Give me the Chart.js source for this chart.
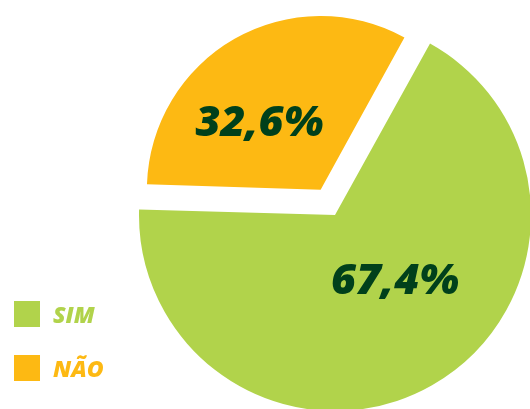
<!DOCTYPE html>
<html>
<head>
<meta charset="utf-8">
<script src="https://cdn.jsdelivr.net/npm/chart.js@4"></script>
<style>
  html, body { margin: 0; padding: 0; background: #fff; overflow: hidden; }
  #wrap { position: relative; width: 530px; height: 409px; }
  #chart { position: absolute; left: 0; top: 0; }
  .legend { position: absolute; left: 14px; top: 301px; font-family: 'Open Sans', 'Noto Sans', sans-serif; }
  .legend-item { display: flex; align-items: center; height: 26px; margin-bottom: 28px; }
  .legend-box { width: 26px; height: 26px; margin-right: 13px; }
  .legend-text { font-size: 23px; font-weight: 800; font-style: italic; line-height: 26px; }
</style>
</head>
<body>
<div id="wrap">
  <canvas id="chart" width="530" height="409"></canvas>
  <div class="legend" id="legend"></div>
</div>
<script>
// ------------------------------------------------------------
// Pie: SIM / NÃO share, NÃO slice pulled out from the pie
// ------------------------------------------------------------

const labels = ['SIM', 'NÃO'];
const values = [67.4, 32.6];
const colors = ['#B1D34B', '#FDB913'];

const labelColor = '#00401B';

// Shrink exploded slices a bit, like the printed original
const sliceRadius = {
    id: 'sliceRadius',
    afterDatasetUpdate(chart, args, opts) {
        args.meta.data.forEach((arc, i) => {
            arc.outerRadius *= opts.scale[i] ?? 1;
        });
    },
};

// Percent text inside each slice
const sliceLabels = {
    id: 'sliceLabels',
    afterDatasetsDraw(chart, args, opts) {
        const { ctx } = chart;
        const meta = chart.getDatasetMeta(0);
        ctx.save();
        ctx.fillStyle = opts.color;
        ctx.font = opts.font;
        ctx.textAlign = 'center';
        ctx.textBaseline = 'middle';
        meta.data.forEach((arc, i) => {
            const { x, y, startAngle, endAngle, outerRadius } = arc.getProps(['x', 'y', 'startAngle', 'endAngle', 'outerRadius'], true);
            const half = (startAngle + endAngle) / 2;
            const shift = (arc.options.offset || 0) / 4;
            const cx = x + Math.cos(half) * shift;
            const cy = y + Math.sin(half) * shift;
            const at = opts.at[i];
            const a = startAngle + at.t * (endAngle - startAngle);
            const r = outerRadius * at.r;
            const text = values[i].toFixed(1).replace('.', ',') + '%';
            ctx.fillText(text, cx + Math.cos(a) * r, cy + Math.sin(a) * r);
        });
        ctx.restore();
    },
};

new Chart(document.getElementById('chart'), {
    type: 'pie',
    data: {
        labels: labels,
        datasets: [{
            data: values,
            backgroundColor: colors,
            borderWidth: 0,
            offset: [0, 116],
            clip: false,
        }],
    },
    options: {
        responsive: false,
        animation: false,
        rotation: 29,
        radius: 196,
        layout: { padding: { left: 140, right: 0, top: 21, bottom: 0 } },
        plugins: {
            legend: { display: false },
            tooltip: { enabled: false },
            sliceRadius: { scale: [1, 0.87] },
            sliceLabels: {
                color: labelColor,
                font: 'italic 900 43px "Open Sans", "Noto Sans", sans-serif',
                at: [{ t: 0.45, r: 0.46 }, { t: 0.39, r: 0.53 }],
            },
        },
    },
    plugins: [sliceRadius, sliceLabels],
});

// HTML legend built from the same arrays
const legendEl = document.getElementById('legend');
labels.forEach((name, i) => {
    const item = document.createElement('div');
    item.className = 'legend-item';
    item.innerHTML = `<span class="legend-box" style="background:${colors[i]}"></span>` +
        `<span class="legend-text" style="color:${colors[i]}">${name}</span>`;
    legendEl.appendChild(item);
});
</script>
</body>
</html>
